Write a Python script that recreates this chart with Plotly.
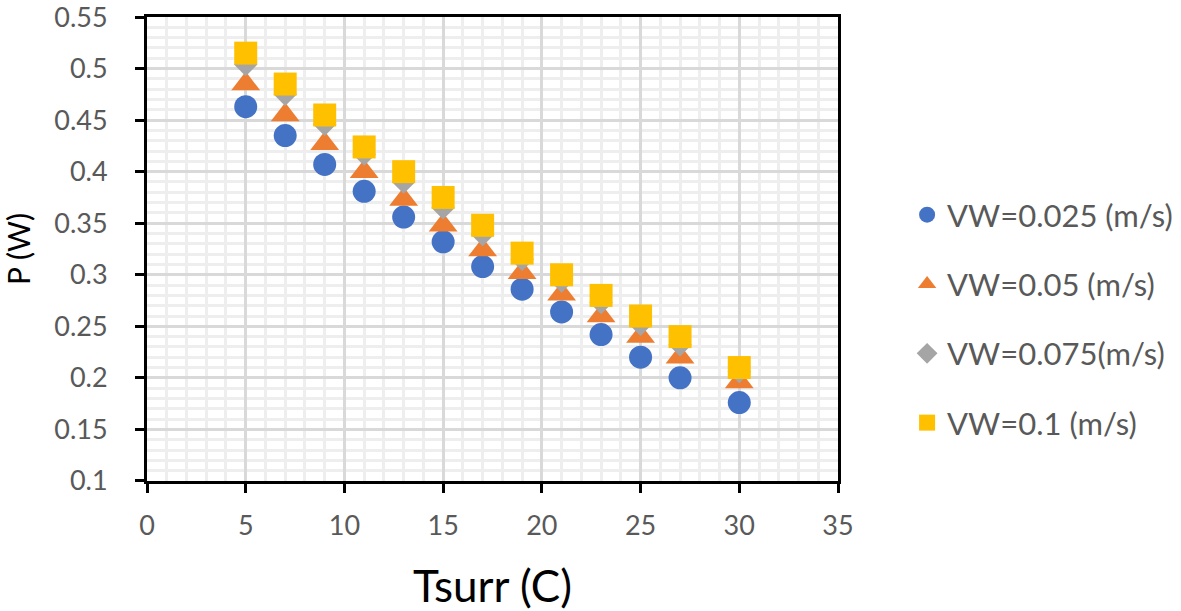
import plotly.graph_objects as go

tsurr = [5, 7, 9, 11, 13, 15, 17, 19, 21, 23, 25, 27, 30]
p_vw_0025 = [0.463, 0.435, 0.407, 0.381, 0.356, 0.332, 0.308, 0.286, 0.264, 0.242, 0.220, 0.200, 0.176]
p_vw_005 = [0.485, 0.455, 0.427, 0.400, 0.373, 0.348, 0.324, 0.302, 0.281, 0.260, 0.240, 0.220, 0.196]
p_vw_0075 = [0.504, 0.475, 0.446, 0.417, 0.390, 0.365, 0.339, 0.315, 0.294, 0.273, 0.252, 0.232, 0.206]
p_vw_01 = [0.515, 0.485, 0.455, 0.424, 0.400, 0.375, 0.348, 0.321, 0.300, 0.280, 0.260, 0.240, 0.210]

series_names = ["VW=0.025 (m/s)", "VW=0.05 (m/s)", "VW=0.075(m/s)", "VW=0.1 (m/s)"]
series_values = [p_vw_0025, p_vw_005, p_vw_0075, p_vw_01]
colors = ["#4472C4", "#ED7D31", "#A5A5A5", "#FFC000"]
symbols = ["circle", "triangle-up", "diamond", "square"]
sizes = [23, 25, 18, 23]

x_ticks = [0, 5, 10, 15, 20, 25, 30, 35]
y_ticks = [0.1, 0.15, 0.2, 0.25, 0.3, 0.35, 0.4, 0.45, 0.5, 0.55]
y_tick_labels = ["0.1", "0.15", "0.2", "0.25", "0.3", "0.35", "0.4", "0.45", "0.5", "0.55"]

FONT = "Lato"

fig = go.Figure()
for i, (name, vals) in enumerate(zip(series_names, series_values)):
    fig.add_trace(go.Scatter(
        x=tsurr, y=vals, mode="markers", name=name,
        legendgroup=f"g{i}",
        marker=dict(symbol=symbols[i], color=colors[i], size=sizes[i], line=dict(width=0)),
    ))

axis_common = dict(
    showline=True, linecolor="black", linewidth=3, mirror=True,
    ticks="outside", tickcolor="black", tickwidth=3, ticklen=9,
    showgrid=True, gridcolor="#d9d9d9", gridwidth=3,
    zeroline=False,
    ticklabeloverflow="allow",
    tickfont=dict(family=FONT, size=27, color="#595959"),
)

fig.update_xaxes(
    range=[0, 35.0001], tickvals=x_ticks,
    minor=dict(dtick=1, tick0=0, showgrid=True, gridcolor="#eeeeee", gridwidth=3, ticks=""),
    title=dict(text="Tsurr (C)", font=dict(family=FONT, size=44, color="black"), standoff=33),
    ticklabelstandoff=10,
    **axis_common,
)
fig.update_yaxes(
    range=[0.09995, 0.55005], tickvals=y_ticks, ticktext=y_tick_labels,
    minor=dict(dtick=0.01, tick0=0.1, showgrid=True, gridcolor="#eeeeee", gridwidth=3, ticks=""),
    title=dict(text="P (W)", font=dict(family=FONT, size=30, color="black"), standoff=27),
    ticklabelstandoff=22,
    **axis_common,
)

fig.update_layout(
    width=1181, height=611,
    margin=dict(l=147, r=343, t=17, b=130, autoexpand=False),
    paper_bgcolor="white", plot_bgcolor="white",
    font=dict(family=FONT),
    legend=dict(
        x=1.10, xanchor="left", y=0.349, yanchor="middle",
        font=dict(family=FONT, size=31, color="#595959"),
        tracegroupgap=26, itemsizing="trace",
        bgcolor="rgba(0,0,0,0)",
    ),
)

fig.write_html(
    "out.html",
    config={"displayModeBar": False},
    post_script="document.body.style.margin='0px';document.body.style.overflow='hidden';",
)
